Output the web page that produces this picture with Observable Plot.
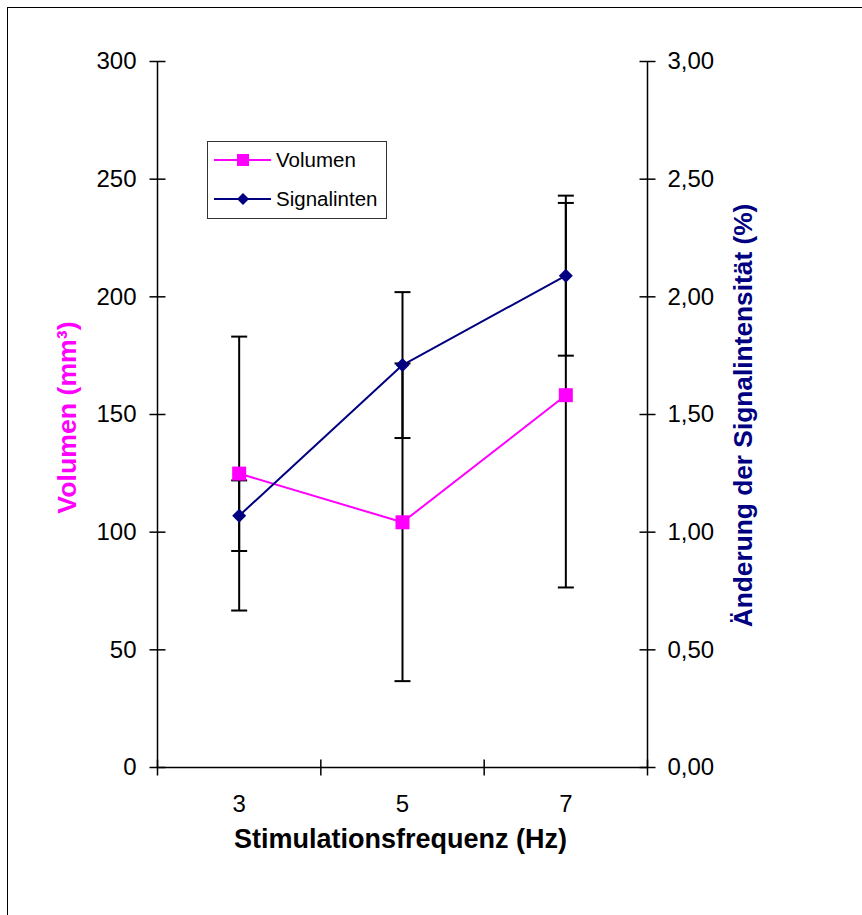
<!DOCTYPE html>
<html>
<head>
<meta charset="utf-8">
<script src="https://cdn.jsdelivr.net/npm/d3@7"></script>
<script src="https://cdn.jsdelivr.net/npm/@observablehq/plot@0.6"></script>
<style>
  html, body { margin: 0; padding: 0; background: #fff; overflow: hidden; }
  #wrap { position: relative; width: 862px; height: 915px; overflow: hidden; font-family: "Liberation Sans", Arial, sans-serif; }
  #frame { position: absolute; left: 7px; top: 7px; width: 900px; height: 960px; border: 1.5px solid #000; box-sizing: border-box; pointer-events: none; }
  #chart { position: absolute; left: 0; top: 0; }
  #legend { position: absolute; left: 207px; top: 141px; width: 180px; height: 78px; border: 1px solid #333; box-sizing: border-box; background: #fff; }
  .row { position: absolute; left: 0; height: 30px; display: flex; align-items: center; }
  .row span { font-size: 20.5px; color: #000; margin-left: 4px; }
</style>
</head>
<body>
<div id="wrap">
  <div id="chart"></div>
  <div id="legend"></div>
  <div id="frame"></div>
</div>
<script>
// ---- data ----
const freqs = [3, 5, 7];                     // Stimulationsfrequenz (Hz)
const volume = [124.9, 104.2, 158.2];        // Volumen (mm³)
const volumeErr = [58.2, 67.5, 81.7];
const signal = [1.07, 1.71, 2.09];           // Änderung der Signalintensität (%)
const signalErr = [0.15, 0.31, 0.34];
const yTicks = [0, 50, 100, 150, 200, 250, 300];
const xBounds = [2, 4, 6, 8];                // category boundaries (tick marks)
const seriesNames = ["Volumen", "Signalinten"];
const colors = {vol: "#FF00FF", sig: "#000080"};

// right axis (0–3 %) is drawn on the same scale as the left (0–300): factor 100
const k = 100;
const volRows = freqs.map((f, i) => ({x: f, y: volume[i], lo: volume[i] - volumeErr[i], hi: volume[i] + volumeErr[i]}));
const sigRows = freqs.map((f, i) => ({x: f, y: signal[i] * k, lo: (signal[i] - signalErr[i]) * k, hi: (signal[i] + signalErr[i]) * k}));
const errRows = [...volRows, ...sigRows];

// custom symbols
const rOf = size => Math.sqrt(size / Math.PI);
const hTick = {draw(ctx, size) { const r = rOf(size); ctx.moveTo(-r, 0); ctx.lineTo(r, 0); }};
const vTick = {draw(ctx, size) { const r = rOf(size); ctx.moveTo(0, -r); ctx.lineTo(0, r); }};
const squareSym = {draw(ctx, size) { const r = rOf(size); ctx.rect(-r, -r, 2 * r, 2 * r); }};
const diamondSym = {draw(ctx, size) { const r = rOf(size); ctx.moveTo(0, -r); ctx.lineTo(r, 0); ctx.lineTo(0, r); ctx.lineTo(-r, 0); ctx.closePath(); }};

const font = "'Liberation Sans', Arial, sans-serif";

const chart = Plot.plot({
  width: 862,
  height: 915,
  marginLeft: 157,
  marginRight: 215,
  marginTop: 61,
  marginBottom: 148,
  style: {fontFamily: font, background: "#fff", overflow: "visible", color: "#000"},
  x: {type: "linear", domain: [2, 8]},
  y: {type: "linear", domain: [0, 300]},
  marks: [
    // axis lines
    Plot.ruleX([2, 8], {stroke: "#000", strokeWidth: 1.5}),
    Plot.ruleY([0], {stroke: "#000", strokeWidth: 1.5}),
    // tick marks crossing the axes
    Plot.dot(yTicks, {y: d => d, frameAnchor: "left", symbol: hTick, r: 8, stroke: "#000", strokeWidth: 1.5, fill: "none"}),
    Plot.dot(yTicks, {y: d => d, frameAnchor: "right", symbol: hTick, r: 8, stroke: "#000", strokeWidth: 1.5, fill: "none"}),
    Plot.dot(xBounds, {x: d => d, frameAnchor: "bottom", symbol: vTick, r: 8, stroke: "#000", strokeWidth: 1.5, fill: "none"}),
    // tick labels
    Plot.axisY({anchor: "left", ticks: yTicks, tickSize: 0, tickPadding: 21, fontSize: 24, label: null, tickFormat: d => String(d)}),
    Plot.axisY({anchor: "right", ticks: yTicks, tickSize: 0, tickPadding: 20, fontSize: 24, label: null,
      tickFormat: d => (d / k).toFixed(2).replace(".", ",")}),
    Plot.axisX({ticks: freqs, tickSize: 0, tickPadding: 27, fontSize: 24, label: null, tickFormat: d => String(d)}),
    // axis titles
    Plot.text(["Volumen (mm³)"], {text: d => d, frameAnchor: "left", textAnchor: "middle", dx: -90, dy: 3, rotate: -90, fontSize: 26.7, fontWeight: "bold", fill: colors.vol}),
    Plot.text(["Änderung der Signalintensität (%)"], {text: d => d, frameAnchor: "right", textAnchor: "middle", dx: 96, dy: 1, rotate: -90, fontSize: 26.3, fontWeight: "bold", fill: colors.sig}),
    Plot.text(["Stimulationsfrequenz (Hz)"], {text: d => d, frameAnchor: "bottom", textAnchor: "middle", dy: 80, dx: -2, fontSize: 27, fontWeight: "bold", fill: "#000"}),
    // series lines
    Plot.line(volRows, {x: "x", y: "y", stroke: colors.vol, strokeWidth: 2}),
    Plot.line(sigRows, {x: "x", y: "y", stroke: colors.sig, strokeWidth: 2}),
    // error bars
    Plot.ruleX(errRows, {x: "x", y1: "lo", y2: "hi", stroke: "#000", strokeWidth: 2}),
    Plot.dot(errRows, {x: "x", y: "lo", symbol: hTick, r: 8, stroke: "#000", strokeWidth: 2, fill: "none"}),
    Plot.dot(errRows, {x: "x", y: "hi", symbol: hTick, r: 8, stroke: "#000", strokeWidth: 2, fill: "none"}),
    // markers
    Plot.dot(volRows, {x: "x", y: "y", symbol: squareSym, r: 7, fill: colors.vol, stroke: "none"}),
    Plot.dot(sigRows, {x: "x", y: "y", symbol: diamondSym, r: 7, fill: colors.sig, stroke: "none"})
  ]
});
document.getElementById("chart").appendChild(chart);

// legend (inside the plot area, like the original)
const legend = document.getElementById("legend");
const legendItems = [
  {name: seriesNames[0], color: colors.vol, shape: "square", top: 3},
  {name: seriesNames[1], color: colors.sig, shape: "diamond", top: 42}
];
for (const it of legendItems) {
  const row = document.createElement("div");
  row.className = "row";
  row.style.top = it.top + "px";
  const marker = it.shape === "square"
    ? `<rect x="29" y="9" width="12" height="12" fill="${it.color}"/>`
    : `<path d="M35,9 L41,15 L35,21 L29,15 Z" fill="${it.color}"/>`;
  row.innerHTML = `<svg width="64" height="30"><line x1="6" x2="63" y1="15" y2="15" stroke="${it.color}" stroke-width="2"/>${marker}</svg><span>${it.name}</span>`;
  legend.appendChild(row);
}
</script>
</body>
</html>
